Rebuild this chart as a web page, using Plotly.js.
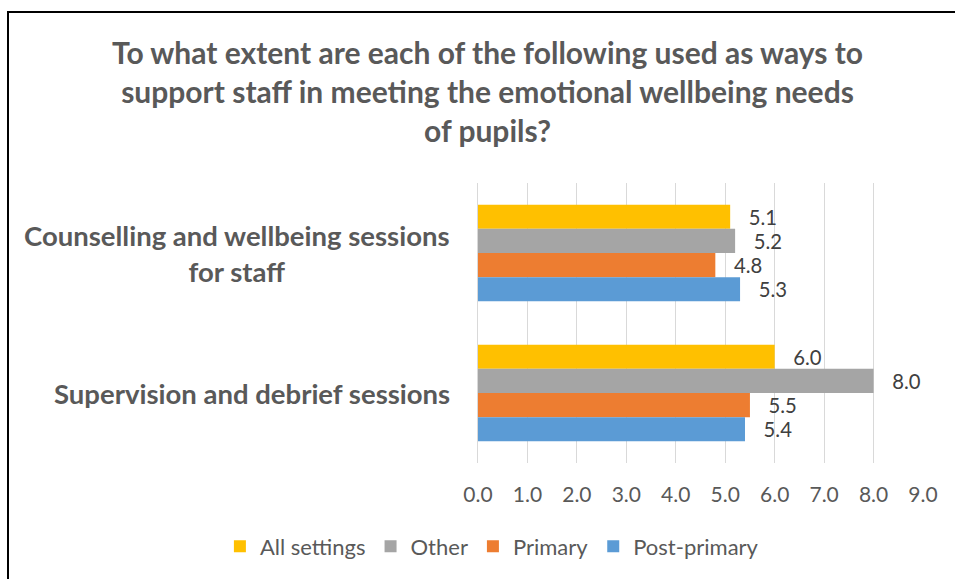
<!DOCTYPE html>
<html>
<head>
<meta charset="utf-8">
<script src="https://cdn.plot.ly/plotly-3.0.1.min.js"></script>
<style>
  html, body { margin: 0; padding: 0; background: #fff; }
  #wrap { position: relative; width: 955px; height: 579px; overflow: hidden; }
  #chart { width: 955px; height: 579px; }
  #frame { position: absolute; left: 7px; top: 11px; width: 1000px; height: 1000px;
           border-left: 2px solid #000; border-top: 2px solid #000; pointer-events: none; }
</style>
</head>
<body>
<div id="wrap">
  <div id="chart"></div>
  <div id="frame"></div>
</div>
<script>
const categories = ["Counselling and wellbeing sessions for staff", "Supervision and debrief sessions"];
const categoryLabels = ["Counselling and wellbeing sessions<br>for staff", "Supervision and debrief sessions"];
const seriesNames = ["All settings", "Other", "Primary", "Post-primary"];
const allSettings = [5.1, 6.0];
const other = [5.2, 8.0];
const primary = [4.8, 5.5];
const postPrimary = [5.3, 5.4];
const xTicks = [0, 1, 2, 3, 4, 5, 6, 7, 8, 9];

const colors = ["#FFC000", "#A5A5A5", "#ED7D31", "#5B9BD5"];
const values = [allSettings, other, primary, postPrimary];
const FONT = "Lato, 'Open Sans', sans-serif";
const PAD = "\u00a0\u00a0\u00a0";

const traces = seriesNames.map((name, i) => ({
  type: "bar",
  orientation: "h",
  name: name,
  y: categories,
  x: values[i],
  marker: { color: colors[i] },
  text: values[i].map(v => PAD + v.toFixed(1)),
  textposition: "outside",
  cliponaxis: false,
  textfont: { family: FONT, size: 21, color: "#404040" },
  hoverinfo: "x+name"
}));

const layout = {
  width: 955, height: 579,
  margin: { l: 478, r: 32, t: 183, b: 114 },
  paper_bgcolor: "#fff", plot_bgcolor: "#fff",
  font: { family: FONT, color: "#595959" },
  barmode: "group",
  bargap: 0.31, bargroupgap: 0,
  showlegend: true,
  title: {
    text: "<b>To what extent are each of the following used as ways to<br>support staff in meeting the emotional wellbeing needs<br>of pupils?</b>",
    font: { family: FONT, size: 30, color: "#595959" },
    x: 0.5105, xref: "container", xanchor: "center",
    y: 0.890, yref: "container", yanchor: "middle"
  },
  xaxis: {
    range: [0, 9], tickvals: xTicks, ticktext: xTicks.map(v => v.toFixed(1)),
    showgrid: true, gridcolor: "#D9D9D9", gridwidth: 1,
    zeroline: false, showline: false, ticks: "",
    ticklabelstandoff: 17,
    tickfont: { family: FONT, size: 21, color: "#595959" },
    fixedrange: true
  },
  yaxis: {
    type: "category", categoryorder: "array", categoryarray: categories,
    autorange: "reversed", showticklabels: false, showgrid: false,
    zeroline: false, showline: true, linecolor: "#D9D9D9", linewidth: 1, ticks: "",
    fixedrange: true
  },
  legend: {
    orientation: "h", xref: "paper", yref: "paper",
    x: -0.58, xanchor: "left", y: -0.298, yanchor: "middle",
    font: { family: FONT, size: 22, color: "#595959" },
    itemwidth: 30,
    itemclick: false, itemdoubleclick: false
  },
  annotations: categories.map((c, i) => ({
    xref: "paper", yref: "y", x: 0, y: c, xanchor: "right", yanchor: "middle",
    xshift: -26, align: "center", showarrow: false,
    text: "<b>" + categoryLabels[i] + "</b>",
    font: { family: FONT, size: 27.5, color: "#595959" }
  }))
};

Plotly.newPlot("chart", traces, layout, { displayModeBar: false, staticPlot: true });
</script>
</body>
</html>
